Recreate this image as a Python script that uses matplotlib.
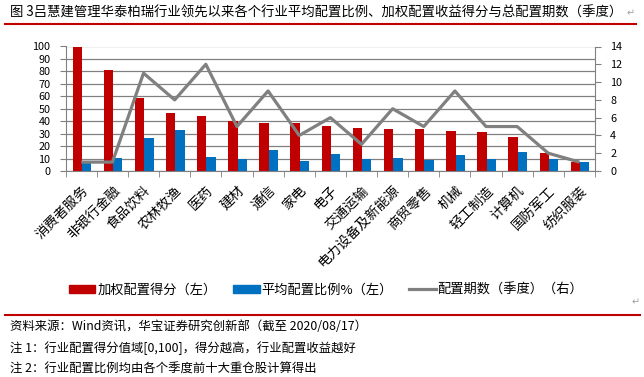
import numpy as np
import matplotlib.pyplot as plt
from matplotlib.lines import Line2D
from matplotlib.patches import Patch

plt.rcParams['font.family'] = ['Noto Sans CJK SC', 'DejaVu Sans']

# Data.
industries = ['消费者服务', '非银行金融', '食品饮料', '农林牧渔', '医药', '建材', '通信',
              '家电', '电子', '交通运输', '电力设备及新能源', '商贸零售', '机械',
              '轻工制造', '计算机', '国防军工', '纺织服装']
score = [100, 81, 58.5, 46.5, 44, 40, 38.5, 38.5, 36.3, 34.5, 33.7, 33.7, 32.3,
         31.5, 27.5, 14.5, 7.5]
avg_weight = [7.2, 10.4, 26.4, 32.8, 11.2, 9.9, 16.8, 8, 13.7, 10, 10.5, 8.9,
              12.9, 10, 15.4, 10, 7.3]
periods = [1, 1, 11, 8, 12, 5, 9, 4, 6, 3, 7, 5, 9, 5, 5, 2, 1]

red = '#C00000'
blue = '#0070C0'
gray = '#808080'
W, H = 644, 377

fig = plt.figure(figsize=(W / 100, H / 100), dpi=100)

# Chart area.
ax = fig.add_axes([65.7 / W, 1 - 171 / H, (595 - 65.7) / W, (171 - 46.5) / H])
x = np.arange(len(industries))
bw = 0.3
ax.bar(x - bw / 2 + 0.02, score, bw, color=red, zorder=2)
ax.bar(x + bw / 2 + 0.02, avg_weight, bw, color=blue, zorder=2)
ax.set_xlim(-0.5, len(industries) - 0.5)
ax.set_ylim(0, 100)
ax.set_yticks(range(0, 101, 10))
ax.yaxis.grid(True, color=gray, linewidth=0.9, zorder=0)
ax.tick_params(axis='y', labelsize=7.8, length=4, color=gray, pad=7)
ax.set_xticks(x)
ax.set_xticklabels(industries, rotation=45, ha='right', rotation_mode='anchor',
                   fontsize=9.8)
ax.tick_params(axis='x', length=0, pad=9)
ax.set_xticks(np.arange(-0.5, len(industries), 1), minor=True)
ax.tick_params(axis='x', which='minor', length=4, color=gray)
for s in ['left', 'bottom']:
    ax.spines[s].set_color(gray)
for s in ['top', 'right']:
    ax.spines[s].set_visible(False)

ax2 = ax.twinx()
ax2.plot(x, periods, color=gray, linewidth=2.3, solid_capstyle='butt')
ax2.set_ylim(0, 14)
ax2.set_yticks(range(0, 15, 2))
ax2.tick_params(axis='y', labelsize=7.8, length=4, color=gray, pad=7)
ax2.spines['right'].set_color(gray)
for s in ['top', 'left', 'bottom']:
    ax2.spines[s].set_visible(False)

# Legend.
handles = [Patch(color=red), Patch(color=blue), Line2D([], [], color=gray, linewidth=2.3)]
labels = ['加权配置得分（左）', '平均配置比例%（左）', '配置期数（季度）（右）']
fig.legend(handles, labels, loc='center left', bbox_to_anchor=(69 / W, 1 - 290 / H),
           ncol=3, frameon=False, fontsize=9.5, handlelength=2.0, handleheight=0.5,
           handletextpad=0.15, columnspacing=1.25, borderpad=0, borderaxespad=0)

# Title and notes.
fig.text(10 / W, 1 - 13 / H, '图 3吕慧建管理华泰柏瑞行业领先以来各个行业平均配置比例、加权配置收益得分与总配置期数（季度）',
         fontsize=9.6, va='center', ha='left')
fig.add_artist(Line2D([5 / W, 636 / W], [1 - 24 / H, 1 - 24 / H], color=red, linewidth=1.5))
fig.add_artist(Line2D([5 / W, 640 / W], [1 - 315 / H, 1 - 315 / H], color=red, linewidth=1.5))

notes = ['资料来源：Wind资讯，华宝证券研究创新部（截至 2020/08/17）',
         '注 1：行业配置得分值域[0,100]，得分越高，行业配置收益越好',
         '注 2：行业配置比例均由各个季度前十大重仓股计算得出']
for i, t in enumerate(notes):
    fig.text(10 / W, 1 - (327 + i * 21) / H, t, fontsize=8.9, va='center', ha='left')

# Paragraph marks from the source document.
for px, py in [(627, 13), (632, 302)]:
    fig.text(px / W, 1 - py / H, '↵', fontsize=7, color='#a0a0a0', va='center', ha='left')

fig.savefig('out.png', dpi=100)
